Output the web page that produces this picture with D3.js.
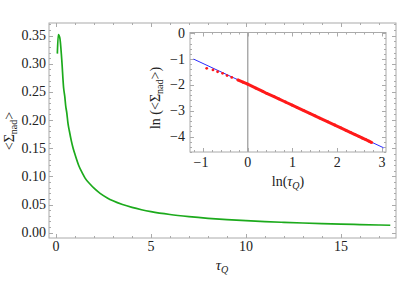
<!DOCTYPE html>
<html>
<head>
<meta charset="utf-8">
<script src="https://cdn.jsdelivr.net/npm/d3@7"></script>
<style>
  body { margin: 0; background: #fff; }
  svg { display: block; }
  text { font-family: "Liberation Serif", "DejaVu Serif", "Times New Roman", serif; fill: #222; }
</style>
</head>
<body>
<div id="chart"></div>
<script>
// main curve (tail checked against the log inset)
var tauQ = [0.07, 0.12, 0.2, 0.3, 0.4, 0.46, 0.51, 0.57, 0.63, 0.7, 0.8, 0.9, 1.0, 1.2, 1.4, 1.53, 1.8, 2.0, 2.32, 2.7, 3.0, 3.5, 4.0, 4.5, 5.0, 6.0, 7.0, 8.0, 9.0, 10, 11, 12, 13, 14, 15, 16, 17, 17.6];
var sigmaNad = [0.318, 0.352, 0.346, 0.308, 0.257, 0.242, 0.225, 0.212, 0.194, 0.181, 0.164, 0.150, 0.139, 0.119, 0.105, 0.097, 0.086, 0.079, 0.0698, 0.0618, 0.0567, 0.050, 0.0449, 0.0408, 0.0374, 0.0323, 0.0286, 0.0256, 0.0232, 0.0213, 0.0197, 0.0184, 0.0172, 0.0162, 0.0153, 0.0145, 0.0137, 0.0132];

// inset: red points cover this tau range, blue fit line endpoints
var insetTauRange = [0.4, 16.6];
var fitLnTau = [-1.21, 3.04];
var fitLnSigma = [-1.0, -4.44];

// ticks
var mainXTicks = [0, 5, 10, 15];
var mainYTicks = [0, 0.05, 0.1, 0.15, 0.2, 0.25, 0.3, 0.35];
var mainYLabels = ['0.00', '0.05', '0.10', '0.15', '0.20', '0.25', '0.30', '0.35'];
var insetXTicks = [-1, 0, 1, 2, 3];
var insetYTicks = [0, -1, -2, -3, -4];

var width = 399;
var height = 299;

var svg = d3.select('#chart')
  .append('svg')
  .attr('width', width)
  .attr('height', height);

var frameColor = '#aaa';

// draws a Mathematica-like frame with inward ticks on all four sides
function drawFrame(g, x, y, xMajor, xMinor, yMajor, yMinor) {
  var x0 = x.range()[0], x1 = x.range()[1];
  var y0 = y.range()[0], y1 = y.range()[1];
  g.append('rect')
    .attr('x', x0).attr('y', y1)
    .attr('width', x1 - x0).attr('height', y0 - y1)
    .attr('fill', 'none')
    .attr('stroke', frameColor)
    .attr('stroke-width', 1);

  function xt(vals, len) {
    vals.forEach(function(v) {
      var px = Math.round(x(v)) + 0.5;
      g.append('line').attr('x1', px).attr('x2', px).attr('y1', y0).attr('y2', y0 - len)
        .attr('stroke', frameColor);
      g.append('line').attr('x1', px).attr('x2', px).attr('y1', y1).attr('y2', y1 + len)
        .attr('stroke', frameColor);
    });
  }
  function yt(vals, len) {
    vals.forEach(function(v) {
      var py = Math.round(y(v)) + 0.5;
      g.append('line').attr('x1', x0).attr('x2', x0 + len).attr('y1', py).attr('y2', py)
        .attr('stroke', frameColor);
      g.append('line').attr('x1', x1).attr('x2', x1 - len).attr('y1', py).attr('y2', py)
        .attr('stroke', frameColor);
    });
  }
  xt(xMinor, 2);
  xt(xMajor, 4);
  yt(yMinor, 2);
  yt(yMajor, 4);
}

function minorTicks(lo, hi, step) {
  var out = [];
  var n = Math.round((hi - lo) / step);
  for (var i = 0; i <= n; i++) out.push(+(lo + i * step).toFixed(4));
  return out;
}

// ---------- main plot ----------
var x = d3.scaleLinear().domain([-0.37, 17.9]).range([49, 396]);
var y = d3.scaleLinear().domain([-0.0094, 0.3724]).range([238, 23]);

var main = svg.append('g');
drawFrame(main, x, y, mainXTicks, minorTicks(0, 17, 1), mainYTicks, minorTicks(0, 0.37, 0.01));

main.selectAll('.xlab')
  .data(mainXTicks)
  .enter()
  .append('text')
    .attr('x', function(d) { return x(d); })
    .attr('y', 251)
    .attr('text-anchor', 'middle')
    .attr('font-size', '14px')
    .text(function(d) { return d; });

main.selectAll('.ylab')
  .data(mainYTicks)
  .enter()
  .append('text')
    .attr('x', 46)
    .attr('y', function(d) { return y(d) + 4.5; })
    .attr('text-anchor', 'end')
    .attr('font-size', '14px')
    .text(function(d, i) { return mainYLabels[i]; });

var line = d3.line()
  .curve(d3.curveMonotoneX)
  .x(function(d, i) { return x(tauQ[i]); })
  .y(function(d) { return y(d); });

main.append('path')
  .datum(sigmaNad)
  .attr('d', line)
  .attr('fill', 'none')
  .attr('stroke', '#1caa1c')
  .attr('stroke-width', 1.7)
  .attr('stroke-linejoin', 'round');

// axis titles
var xTitle = main.append('text')
  .attr('x', 222)
  .attr('y', 270)
  .attr('text-anchor', 'middle')
  .attr('font-size', '15px')
  .attr('font-style', 'italic');
xTitle.append('tspan').text('τ');
xTitle.append('tspan').attr('font-size', '10px').attr('dy', 3).text('Q');

var yTitle = main.append('text')
  .attr('transform', 'translate(14,131) rotate(-90)')
  .attr('text-anchor', 'middle')
  .attr('font-size', '14px');
yTitle.append('tspan').text('<Σ');
yTitle.append('tspan').attr('font-size', '10px').attr('dy', 3).text('nad');
yTitle.append('tspan').attr('dy', -3).text('>');

// ---------- inset ----------
var ix = d3.scaleLinear().domain([-1.29, 3.09]).range([190, 386]);
var iy = d3.scaleLinear().domain([-4.6, 0.03]).range([152, 32.5]);

var inset = svg.append('g');
inset.append('rect')
  .attr('x', 190).attr('y', 32.5)
  .attr('width', 196).attr('height', 119.5)
  .attr('fill', '#fff');

// vertical line at ln(tau) = 0
inset.append('line')
  .attr('x1', ix(0)).attr('x2', ix(0))
  .attr('y1', iy.range()[0]).attr('y2', iy.range()[1])
  .attr('stroke', '#aaa')
  .attr('stroke-width', 1.5);

drawFrame(inset, ix, iy, insetXTicks, minorTicks(-1.2, 3.0, 0.2), insetYTicks, minorTicks(-4.6, 0, 0.2));

inset.selectAll('.ixlab')
  .data(insetXTicks)
  .enter()
  .append('text')
    .attr('x', function(d) { return ix(d) + (d < 0 ? -2 : 0); })
    .attr('y', 167)
    .attr('text-anchor', 'middle')
    .attr('font-size', '14px')
    .text(function(d) { return d < 0 ? '\u2212' + (-d) : d; });

inset.selectAll('.iylab')
  .data(insetYTicks)
  .enter()
  .append('text')
    .attr('x', 185)
    .attr('y', function(d) { return iy(d) + 4.5; })
    .attr('text-anchor', 'end')
    .attr('font-size', '14px')
    .text(function(d) { return d < 0 ? '\u2212' + (-d) : d; });

// blue fit line
inset.append('line')
  .attr('x1', ix(fitLnTau[0])).attr('y1', iy(fitLnSigma[0]))
  .attr('x2', ix(fitLnTau[1])).attr('y2', iy(fitLnSigma[1]))
  .attr('stroke', '#2b2bff')
  .attr('stroke-width', 1);

// red data: ln of the main curve
var logPts = [];
tauQ.forEach(function(t, i) {
  if (t >= insetTauRange[0] && t <= insetTauRange[1]) {
    logPts.push([Math.log(t), Math.log(sigmaNad[i])]);
  }
});

inset.append('path')
  .datum(logPts.filter(function(d) { return d[0] > -0.3; }))
  .attr('d', d3.line()
    .x(function(d) { return ix(d[0]); })
    .y(function(d) { return iy(d[1]); }))
  .attr('fill', 'none')
  .attr('stroke', '#ff1a1a')
  .attr('stroke-width', 3);

inset.selectAll('.dot')
  .data(logPts)
  .enter()
  .append('circle')
    .attr('cx', function(d) { return ix(d[0]); })
    .attr('cy', function(d) { return iy(d[1]); })
    .attr('r', 1.4)
    .attr('fill', '#ff1a1a');

var ixTitle = inset.append('text')
  .attr('x', 288)
  .attr('y', 186)
  .attr('text-anchor', 'middle')
  .attr('font-size', '14px');
ixTitle.append('tspan').text('ln(');
ixTitle.append('tspan').attr('font-style', 'italic').text('τ');
ixTitle.append('tspan').attr('font-style', 'italic').attr('font-size', '10px').attr('dy', 3).text('Q');
ixTitle.append('tspan').attr('dy', -3).text(')');

var iyTitle = inset.append('text')
  .attr('transform', 'translate(160,98) rotate(-90)')
  .attr('text-anchor', 'middle')
  .attr('font-size', '14px');
iyTitle.append('tspan').text('ln (<Σ');
iyTitle.append('tspan').attr('font-size', '10px').attr('dy', 3).text('nad');
iyTitle.append('tspan').attr('dy', -3).text('>)');
</script>
</body>
</html>
